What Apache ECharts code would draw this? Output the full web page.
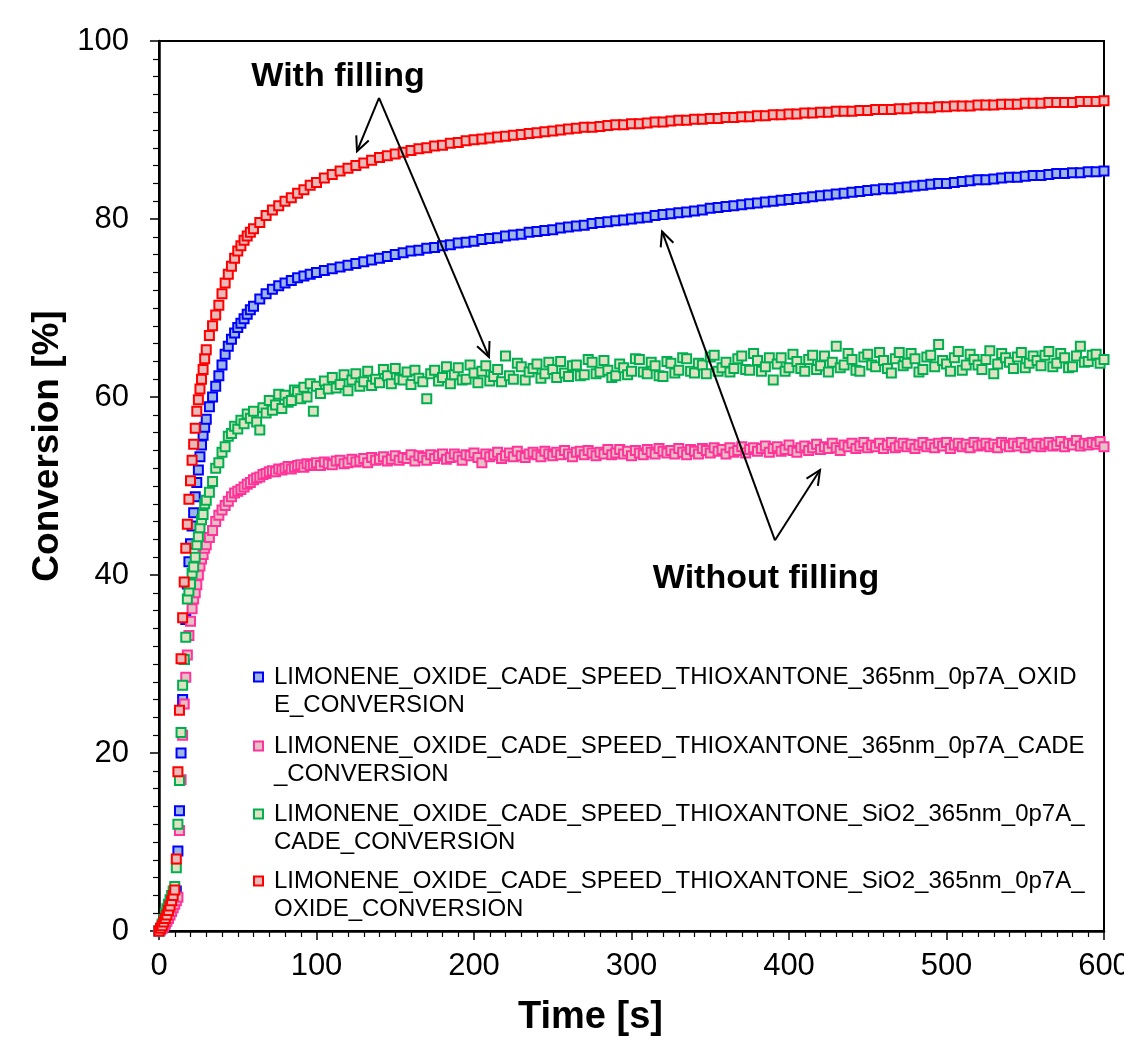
<!DOCTYPE html>
<html>
<head>
<meta charset="utf-8">
<script src="https://cdn.jsdelivr.net/npm/echarts@6/dist/echarts.min.js"></script>
<style>
  html, body { margin: 0; padding: 0; background: #fff; }
  #main { width: 1124px; height: 1046px; }
</style>
</head>
<body>
<div id="main"></div>
<script>
// time grid [s] for the two smooth OXIDE curves
var timeSmooth = [
  0, 1, 2, 3, 4, 5, 6, 7, 8, 9,
  10, 11, 12, 13, 14, 15, 16, 17, 18, 19,
  20, 21, 22, 23, 24, 25, 26, 27, 28, 29,
  30, 32, 34, 36, 38, 40, 42, 44, 46, 48,
  50, 52, 54, 56, 58, 60, 64, 68, 72, 76,
  80, 84, 88, 92, 96, 100, 105, 110, 115, 120,
  125, 130, 135, 140, 145, 150, 155, 160, 165, 170,
  175, 180, 185, 190, 195, 200, 205, 210, 215, 220,
  225, 230, 235, 240, 245, 250, 255, 260, 265, 270,
  275, 280, 285, 290, 295, 300, 305, 310, 315, 320,
  325, 330, 335, 340, 345, 350, 355, 360, 365, 370,
  375, 380, 385, 390, 395, 400, 405, 410, 415, 420,
  425, 430, 435, 440, 445, 450, 455, 460, 465, 470,
  475, 480, 485, 490, 495, 500, 505, 510, 515, 520,
  525, 530, 535, 540, 545, 550, 555, 560, 565, 570,
  575, 580, 585, 590, 595, 600
];

// denser time grid [s] for the two noisy CADE curves
var timeDense = [
  0, 1, 2, 3, 4, 5, 6, 7, 8, 9,
  10, 11, 12, 13, 14, 15, 16, 17, 18, 19,
  20, 21, 22, 23, 24, 25, 26, 27, 28, 29,
  30, 32, 34, 36, 38, 40, 42, 44, 46, 48,
  50, 52, 54, 56, 58, 60, 62, 64, 66, 68,
  70, 72, 74, 76, 78, 80, 82, 84, 86, 88,
  90, 92, 94, 96, 98, 100, 102.5, 105, 107.5, 110,
  112.5, 115, 117.5, 120, 122.5, 125, 127.5, 130, 132.5, 135,
  137.5, 140, 142.5, 145, 147.5, 150, 152.5, 155, 157.5, 160,
  162.5, 165, 167.5, 170, 172.5, 175, 177.5, 180, 182.5, 185,
  187.5, 190, 192.5, 195, 197.5, 200, 202.5, 205, 207.5, 210,
  212.5, 215, 217.5, 220, 222.5, 225, 227.5, 230, 232.5, 235,
  237.5, 240, 242.5, 245, 247.5, 250, 252.5, 255, 257.5, 260,
  262.5, 265, 267.5, 270, 272.5, 275, 277.5, 280, 282.5, 285,
  287.5, 290, 292.5, 295, 297.5, 300, 302.5, 305, 307.5, 310,
  312.5, 315, 317.5, 320, 322.5, 325, 327.5, 330, 332.5, 335,
  337.5, 340, 342.5, 345, 347.5, 350, 352.5, 355, 357.5, 360,
  362.5, 365, 367.5, 370, 372.5, 375, 377.5, 380, 382.5, 385,
  387.5, 390, 392.5, 395, 397.5, 400, 402.5, 405, 407.5, 410,
  412.5, 415, 417.5, 420, 422.5, 425, 427.5, 430, 432.5, 435,
  437.5, 440, 442.5, 445, 447.5, 450, 452.5, 455, 457.5, 460,
  462.5, 465, 467.5, 470, 472.5, 475, 477.5, 480, 482.5, 485,
  487.5, 490, 492.5, 495, 497.5, 500, 502.5, 505, 507.5, 510,
  512.5, 515, 517.5, 520, 522.5, 525, 527.5, 530, 532.5, 535,
  537.5, 540, 542.5, 545, 547.5, 550, 552.5, 555, 557.5, 560,
  562.5, 565, 567.5, 570, 572.5, 575, 577.5, 580, 582.5, 585,
  587.5, 590, 592.5, 595, 597.5, 600
];

// conversion [%]
var oxideNoFill = [
  0, 0.2, 0.4, 0.7, 1.0, 1.4, 1.8, 2.3, 2.8, 3.3,
  3.9, 4.5, 9.0, 13.5, 20.0, 26.0, 30.5, 35.0, 39.0, 41.5,
  43.5, 45.5, 47.0, 48.8, 50.4, 51.8, 53.3, 54.6, 55.7, 56.6,
  57.5, 58.9, 60.0, 61.2, 62.4, 63.6, 64.8, 65.7, 66.5, 67.2,
  67.8, 68.3, 68.8, 69.3, 69.8, 70.2, 71.0, 71.6, 72.1, 72.5,
  72.8, 73.1, 73.4, 73.6, 73.8, 74.0, 74.2, 74.4, 74.6, 74.8,
  75.0, 75.2, 75.4, 75.6, 75.8, 76.0, 76.2, 76.4, 76.5, 76.7,
  76.8, 77.0, 77.1, 77.3, 77.4, 77.5, 77.7, 77.8, 77.9, 78.1,
  78.2, 78.3, 78.5, 78.6, 78.7, 78.8, 79.0, 79.1, 79.2, 79.3,
  79.5, 79.6, 79.7, 79.8, 79.9, 80.0, 80.1, 80.2, 80.4, 80.5,
  80.6, 80.7, 80.8, 80.9, 81.0, 81.2, 81.3, 81.4, 81.5, 81.6,
  81.7, 81.8, 81.9, 82.0, 82.1, 82.2, 82.3, 82.4, 82.5, 82.6,
  82.7, 82.8, 82.9, 83.0, 83.1, 83.2, 83.3, 83.4, 83.4, 83.5,
  83.6, 83.7, 83.8, 83.9, 84.0, 84.0, 84.1, 84.2, 84.3, 84.4,
  84.4, 84.5, 84.6, 84.7, 84.7, 84.8, 84.9, 84.9, 85.0, 85.1,
  85.1, 85.2, 85.2, 85.3, 85.3, 85.4
];
var cadeNoFill = [
  0, 0.1, 0.3, 0.5, 0.8, 1.1, 1.4, 1.8, 2.2, 2.6,
  3.0, 3.4, 3.8, 11.3, 17.0, 22.0, 25.5, 28.5, 31.0, 33.2,
  34.8, 36.2, 37.3, 38.0, 38.9, 40.0, 41.0, 41.8, 42.3, 43.0,
  43.4, 44.2, 45.0, 46.0, 46.7, 47.3, 47.8, 48.3, 48.8, 49.2,
  49.4, 49.6, 49.9, 50.2, 50.4, 50.7, 50.9, 51.0, 51.3, 51.4,
  51.6, 51.7, 51.6, 51.9, 51.8, 52.0, 52.2, 51.9, 52.1, 52.3,
  52.4, 52.1, 52.5, 52.3, 52.4, 52.6, 52.3, 52.7, 52.5, 52.4,
  52.8, 52.9, 52.5, 52.6, 53.0, 52.7, 52.8, 53.1, 52.6, 53.2,
  52.9, 53.0, 53.3, 52.8, 53.0, 53.4, 52.9, 53.2, 53.1, 53.5,
  52.8, 53.4, 53.2, 52.9, 53.5, 53.1, 53.4, 53.6, 53.0, 53.2,
  53.6, 53.3, 52.9, 53.5, 53.4, 53.7, 53.2, 52.6, 53.6, 53.3,
  53.5, 53.8, 53.1, 53.4, 53.7, 53.3, 53.9, 53.4, 53.2, 53.6,
  53.8, 53.5, 53.3, 53.9, 53.6, 53.4, 53.8, 53.5, 54.0, 53.6,
  53.3, 53.8, 53.9, 53.5, 54.0, 53.7, 53.4, 53.8, 53.6, 54.1,
  53.5, 53.7, 54.1, 53.6, 53.9, 53.4, 54.0, 53.7, 53.5, 54.1,
  53.8, 53.6, 54.2, 53.9, 53.7, 54.0, 53.6, 54.2, 53.8, 53.5,
  54.1, 53.9, 53.6, 54.2, 54.0, 53.7, 54.3, 53.9, 54.1, 53.6,
  54.3, 53.8, 54.0, 54.4, 53.7, 54.1, 54.3, 53.9, 54.2, 54.5,
  53.8, 54.2, 54.4, 53.9, 54.1, 54.6, 54.0, 53.8, 54.3, 54.5,
  54.0, 54.3, 54.7, 54.1, 54.4, 54.2, 54.8, 54.3, 54.0, 54.6,
  54.4, 54.8, 54.2, 54.5, 54.9, 54.3, 54.6, 54.4, 54.8, 54.2,
  54.6, 54.9, 54.3, 54.5, 54.8, 54.4, 54.7, 54.2, 54.6, 54.9,
  54.4, 54.7, 54.3, 54.8, 54.5, 54.9, 54.2, 54.6, 54.8, 54.4,
  54.7, 54.3, 54.9, 54.5, 54.6, 54.8, 54.4, 54.7, 54.3, 54.9,
  54.6, 54.4, 54.8, 54.5, 54.9, 54.3, 54.7, 54.5, 54.8, 54.4,
  54.7, 54.9, 54.5, 54.6, 55.0, 54.4, 54.8, 54.6, 55.1, 54.5,
  54.8, 54.6, 54.9, 54.7, 55.0, 54.4
];
var cadeSiO2 = [
  0, 0.3, 0.8, 1.3, 2.0, 2.5, 3.0, 3.5, 4.0, 4.5,
  5.0, 7.1, 12.0, 16.9, 22.3, 27.6, 30.5, 33.0, 37.3, 38.2,
  39.0, 40.2, 40.9, 42.0, 43.4, 44.3, 45.3, 46.2, 46.8, 48.0,
  48.4, 49.3, 50.5, 52.0, 52.6, 53.8, 54.4, 55.6, 55.9, 56.7,
  56.4, 57.4, 57.0, 58.1, 57.6, 58.4, 57.2, 56.3, 58.8, 58.2,
  59.6, 58.5, 59.1, 60.3, 58.7, 60.2, 59.4, 59.6, 60.8, 60.6,
  59.8, 61.1, 60.0, 61.5, 58.4, 61.2, 60.4, 61.8, 60.9, 62.2,
  61.0, 61.4, 62.5, 60.7, 61.9, 62.6, 61.2, 61.7, 62.9, 61.3,
  62.0, 61.6, 63.1, 62.4, 61.5, 63.2, 62.0, 61.9, 62.8, 61.4,
  63.0, 62.1, 61.7, 59.8, 62.6, 63.0, 61.8, 62.2, 63.4, 61.5,
  62.5, 63.3, 61.9, 62.0, 63.6, 62.7, 61.6, 62.9, 63.5, 61.8,
  62.3, 63.1, 61.7, 64.6, 62.4, 62.0, 63.8, 63.4, 61.9, 62.8,
  63.2, 63.7, 62.1, 62.6, 63.9, 63.1, 62.2, 64.0, 62.7, 62.3,
  63.5, 63.6, 62.4, 62.5, 64.2, 63.9, 62.6, 62.8, 64.1, 63.0,
  62.2, 62.4, 63.7, 63.3, 62.5, 62.9, 64.3, 64.2, 62.8, 62.6,
  63.9, 63.5, 62.4, 62.3, 64.0, 63.8, 62.7, 63.0, 64.4, 64.3,
  62.9, 62.7, 63.8, 63.6, 62.6, 64.5, 64.7, 62.9, 63.3, 63.9,
  62.8, 63.2, 64.3, 64.6, 63.1, 63.0, 64.9, 64.1, 62.9, 63.4,
  64.4, 61.9, 63.7, 64.4, 62.9, 63.3, 64.8, 64.0, 63.2, 62.9,
  64.2, 64.7, 63.1, 63.5, 64.6, 62.8, 63.9, 65.7, 63.3, 63.6,
  64.9, 64.2, 63.0, 62.9, 64.5, 64.8, 63.6, 63.4, 65.0, 64.1,
  63.2, 62.7, 64.3, 65.0, 63.5, 63.8, 64.9, 64.3, 62.8, 63.1,
  64.5, 64.7, 63.4, 65.9, 64.1, 63.7, 62.9, 64.4, 65.1, 63.0,
  63.6, 64.8, 64.2, 63.6, 63.1, 64.2, 65.2, 62.6, 63.7, 64.9,
  64.4, 63.9, 63.2, 64.5, 65.0, 63.3, 63.8, 64.6, 64.1, 63.5,
  64.7, 65.1, 63.4, 63.8, 64.9, 64.4, 63.3, 63.4, 64.6, 65.7,
  63.9, 64.0, 64.7, 64.8, 63.8, 64.2
];
var oxideSiO2 = [
  0, 0.3, 0.6, 1.0, 1.4, 1.8, 2.3, 2.8, 3.4, 4.0,
  4.6, 8.1, 17.9, 24.8, 30.6, 35.2, 39.2, 43.0, 45.7, 48.5,
  50.6, 52.9, 54.7, 56.5, 58.4, 59.7, 60.9, 62.0, 63.1, 64.3,
  65.3, 66.9, 68.0, 69.2, 70.3, 71.6, 72.8, 73.8, 74.7, 75.6,
  76.4, 77.0, 77.6, 78.1, 78.5, 78.9, 79.6, 80.4, 81.0, 81.5,
  82.0, 82.4, 82.9, 83.3, 83.8, 84.1, 84.6, 85.0, 85.4, 85.7,
  86.0, 86.3, 86.6, 86.9, 87.1, 87.3, 87.5, 87.7, 87.9, 88.0,
  88.2, 88.3, 88.5, 88.6, 88.8, 88.9, 89.0, 89.1, 89.2, 89.3,
  89.4, 89.5, 89.6, 89.7, 89.8, 89.9, 90.0, 90.1, 90.2, 90.3,
  90.3, 90.4, 90.5, 90.6, 90.6, 90.7, 90.7, 90.8, 90.9, 90.9,
  91.0, 91.1, 91.1, 91.2, 91.2, 91.3, 91.3, 91.4, 91.4, 91.5,
  91.5, 91.6, 91.6, 91.7, 91.7, 91.8, 91.8, 91.9, 91.9, 92.0,
  92.0, 92.1, 92.1, 92.1, 92.2, 92.2, 92.3, 92.3, 92.3, 92.4,
  92.4, 92.5, 92.5, 92.5, 92.6, 92.6, 92.7, 92.7, 92.7, 92.8,
  92.8, 92.8, 92.9, 92.9, 92.9, 93.0, 93.0, 93.0, 93.1, 93.1,
  93.1, 93.1, 93.2, 93.2, 93.2, 93.3
];

// legend names as shown (two lines each)
var nameLines = [
  ["LIMONENE_OXIDE_CADE_SPEED_THIOXANTONE_365nm_0p7A_OXID", "E_CONVERSION"],
  ["LIMONENE_OXIDE_CADE_SPEED_THIOXANTONE_365nm_0p7A_CADE", "_CONVERSION"],
  ["LIMONENE_OXIDE_CADE_SPEED_THIOXANTONE_SiO2_365nm_0p7A_", "CADE_CONVERSION"],
  ["LIMONENE_OXIDE_CADE_SPEED_THIOXANTONE_SiO2_365nm_0p7A_", "OXIDE_CONVERSION"]
];
var seriesValues = [oxideNoFill, cadeNoFill, cadeSiO2, oxideSiO2];
var seriesTimes = [timeSmooth, timeDense, timeDense, timeSmooth];
var borderColors = ["#0000ff", "#ff3399", "#00b050", "#ff0000"];
var fillColors = ["#9db6e6", "#e6c0c6", "#dfe2c2", "#e8baba"];
var legendTops = [630, 699, 767, 834];

// annotations, in data coordinates [t, conversion]
var noteTexts = [
  { text: "With filling", at: [113.7, 96.0] },
  { text: "Without filling", at: [385.4, 39.6] }
];
var noteArrows = [
  { from: [139.7, 93.6], to: [125.7, 87.6] },
  { from: [139.7, 93.6], to: [209.5, 64.5] },
  { from: [391.1, 43.9], to: [319.4, 78.6] },
  { from: [391.1, 43.9], to: [419.7, 51.8] }
];

var FONT = "Liberation Sans, Arial, sans-serif";
var names = nameLines.map(function (l) { return l[0] + l[1]; });

var chart = echarts.init(document.getElementById("main"));

var series = seriesValues.map(function (vals, i) {
  var ts = seriesTimes[i];
  return {
    name: names[i],
    type: "scatter",
    symbol: "rect",
    symbolSize: 9,
    itemStyle: {
      color: fillColors[i],
      borderColor: borderColors[i],
      borderWidth: 2,
      opacity: 1
    },
    data: ts.map(function (t, k) { return [t, vals[k]]; })
  };
});

var legends = names.map(function (n, i) {
  return {
    data: [n],
    left: 248,
    top: legendTops[i],
    icon: "rect",
    itemWidth: 9,
    itemHeight: 9,
    selectedMode: false,
    // blank first line so the marker sits beside the first text line
    formatter: function () { return "\n" + nameLines[i].join("\n"); },
    textStyle: {
      fontFamily: FONT,
      fontSize: 24,
      color: "#000",
      lineHeight: 28,
      padding: [0, 0, 0, 6]
    }
  };
});

chart.setOption({
  animation: false,
  backgroundColor: "#fff",
  grid: {
    left: 159,
    right: 20,
    top: 41,
    bottom: 115,
    containLabel: false,
    outerBoundsMode: "none",
    show: true,
    borderColor: "#000",
    borderWidth: 2,
    backgroundColor: "transparent"
  },
  legend: legends,
  xAxis: {
    type: "value",
    min: 0,
    max: 600,
    interval: 100,
    name: "Time [s]",
    nameLocation: "middle",
    nameGap: 68,
    nameTextStyle: {
      fontFamily: FONT,
      fontSize: 38,
      fontWeight: "bold",
      color: "#000",
      padding: [0, 82, 0, 0]
    },
    axisLine: { show: true, onZero: false, lineStyle: { color: "#000", width: 2.5 } },
    axisTick: { show: true, inside: false, length: 9, lineStyle: { color: "#000", width: 1.5 } },
    minorTick: { show: true, splitNumber: 10, length: 6, lineStyle: { color: "#000", width: 1.2 } },
    splitLine: { show: false },
    axisLabel: { fontFamily: FONT, fontSize: 31, color: "#000", margin: 20, showMaxLabel: true }
  },
  yAxis: {
    type: "value",
    min: 0,
    max: 100,
    interval: 20,
    name: "Conversion [%]",
    nameLocation: "middle",
    nameGap: 88,
    nameTextStyle: {
      fontFamily: FONT,
      fontSize: 37,
      fontWeight: "bold",
      color: "#000",
      padding: [0, 0, 0, 80]
    },
    axisLine: { show: true, onZero: false, lineStyle: { color: "#000", width: 2.5 } },
    axisTick: { show: true, inside: false, length: 9, lineStyle: { color: "#000", width: 1.5 } },
    minorTick: { show: true, splitNumber: 10, length: 6, lineStyle: { color: "#000", width: 1.2 } },
    splitLine: { show: false },
    axisLabel: { fontFamily: FONT, fontSize: 31, color: "#000", margin: 30 }
  },
  series: series
});

// annotations: bold labels and open-headed arrows
function px(p) {
  return chart.convertToPixel({ xAxisIndex: 0, yAxisIndex: 0 }, p);
}
var graphics = [];
noteTexts.forEach(function (n) {
  var p = px(n.at);
  graphics.push({
    type: "text",
    x: p[0],
    y: p[1],
    z: 100,
    style: {
      text: n.text,
      font: "bold 34px " + FONT,
      fill: "#000",
      align: "center",
      verticalAlign: "middle"
    }
  });
});
noteArrows.forEach(function (a) {
  var s = px(a.from), e = px(a.to);
  var dx = e[0] - s[0], dy = e[1] - s[1];
  var len = Math.sqrt(dx * dx + dy * dy);
  var ux = dx / len, uy = dy / len;
  var L = 16, ang = 25 * Math.PI / 180;
  var c = Math.cos(ang), sn = Math.sin(ang);
  var h1 = [e[0] - L * (ux * c - uy * sn), e[1] - L * (uy * c + ux * sn)];
  var h2 = [e[0] - L * (ux * c + uy * sn), e[1] - L * (uy * c - ux * sn)];
  graphics.push({
    type: "line",
    z: 100,
    shape: { x1: s[0], y1: s[1], x2: e[0], y2: e[1] },
    style: { stroke: "#000", lineWidth: 2 }
  });
  graphics.push({
    type: "polyline",
    z: 100,
    shape: { points: [h1, e, h2] },
    style: { stroke: "#000", lineWidth: 2, fill: null }
  });
});
chart.setOption({ graphic: graphics });
</script>
</body>
</html>
